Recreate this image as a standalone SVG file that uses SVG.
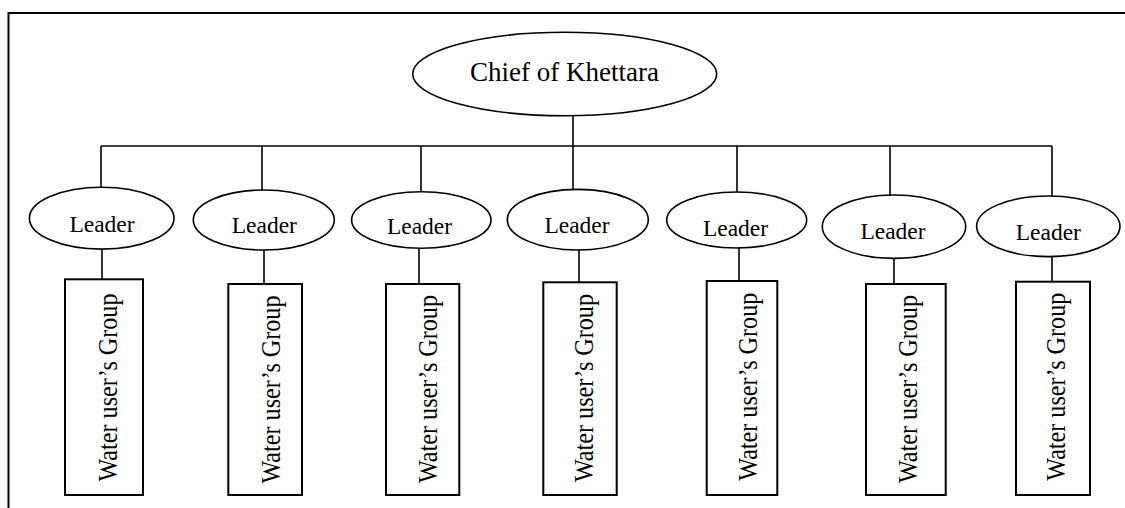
<svg xmlns="http://www.w3.org/2000/svg" width="1125" height="508" viewBox="0 0 1125 508">
  <style>
    .frame { fill: none; stroke: #000; stroke-width: 2; }
    .oval { fill: #fff; stroke: #000; stroke-width: 1.6; }
    .box { fill: #fff; stroke: #000; stroke-width: 2; }
    .wire { fill: none; stroke: #000; stroke-width: 1.6; }
    .lbl { font-family: "Liberation Serif", "Times New Roman", serif; fill: #000; text-anchor: middle; }
    .chief { font-size: 27px; }
    .leader { font-size: 23.5px; }
    .group { font-size: 27px; }
  </style>

  <!-- outer frame (open at right and bottom) -->
  <path class="frame" d="M8.5,508 V13 H1125"/>

  <!-- connectors -->
  <g id="connectors">
    <path class="wire" d="M573,116 V146"/>
    <path class="wire" d="M101,146 H1052"/>
    <path class="wire" d="M101,146 V187.5"/>
    <path class="wire" d="M262,146 V190"/>
    <path class="wire" d="M421,146 V192"/>
    <path class="wire" d="M573,146 V189.5"/>
    <path class="wire" d="M737,146 V192"/>
    <path class="wire" d="M890,146 V195"/>
    <path class="wire" d="M1052,146 V196"/>
    <!-- leader to group -->
    <path class="wire" d="M102,249 V279"/>
    <path class="wire" d="M264,250 V284"/>
    <path class="wire" d="M419,248 V284"/>
    <path class="wire" d="M579,250 V282"/>
    <path class="wire" d="M739,248 V281"/>
    <path class="wire" d="M894,258 V284"/>
    <path class="wire" d="M1052,256.5 V282"/>
  </g>

  <!-- top node -->
  <g id="chief">
    <ellipse class="oval" cx="564.7" cy="74" rx="152" ry="41.7"/>
    <text class="lbl chief" x="564.5" y="80.5">Chief of Khettara</text>
  </g>

  <!-- leaders -->
  <g id="leader-1">
    <ellipse class="oval" cx="101.7" cy="218.2" rx="72.3" ry="30.9"/>
    <text class="lbl leader" x="102" y="232.3">Leader</text>
  </g>
  <g id="leader-2">
    <ellipse class="oval" cx="263.8" cy="220" rx="70.5" ry="30"/>
    <text class="lbl leader" x="264.3" y="233.3">Leader</text>
  </g>
  <g id="leader-3">
    <ellipse class="oval" cx="421.3" cy="220" rx="69.7" ry="28.3"/>
    <text class="lbl leader" x="419.5" y="234.3">Leader</text>
  </g>
  <g id="leader-4">
    <ellipse class="oval" cx="577.8" cy="219.7" rx="70.5" ry="30.3"/>
    <text class="lbl leader" x="577" y="233.3">Leader</text>
  </g>
  <g id="leader-5">
    <ellipse class="oval" cx="736.7" cy="220" rx="70" ry="28"/>
    <text class="lbl leader" x="735.5" y="235.7">Leader</text>
  </g>
  <g id="leader-6">
    <ellipse class="oval" cx="894" cy="226.7" rx="71.7" ry="31.7"/>
    <text class="lbl leader" x="893" y="239">Leader</text>
  </g>
  <g id="leader-7">
    <ellipse class="oval" cx="1048.3" cy="226.3" rx="71.7" ry="30.3"/>
    <text class="lbl leader" x="1048.3" y="240">Leader</text>
  </g>

  <!-- water user groups (vertical labels) -->
  <g id="group-1">
    <rect class="box" x="65" y="279.3" width="78" height="215.7"/>
    <text class="lbl group" transform="translate(116.7,387.5) rotate(-90)" textLength="188" lengthAdjust="spacingAndGlyphs">Water user’s Group</text>
  </g>
  <g id="group-2">
    <rect class="box" x="228.3" y="284" width="73.7" height="211"/>
    <text class="lbl group" transform="translate(280,389.5) rotate(-90)" textLength="188" lengthAdjust="spacingAndGlyphs">Water user’s Group</text>
  </g>
  <g id="group-3">
    <rect class="box" x="386" y="284" width="73.3" height="211"/>
    <text class="lbl group" transform="translate(436.7,389) rotate(-90)" textLength="188" lengthAdjust="spacingAndGlyphs">Water user’s Group</text>
  </g>
  <g id="group-4">
    <rect class="box" x="543.3" y="282.3" width="73.4" height="212.7"/>
    <text class="lbl group" transform="translate(593.3,388) rotate(-90)" textLength="188" lengthAdjust="spacingAndGlyphs">Water user’s Group</text>
  </g>
  <g id="group-5">
    <rect class="box" x="706.7" y="281" width="70.6" height="214"/>
    <text class="lbl group" transform="translate(756.7,386.7) rotate(-90)" textLength="188" lengthAdjust="spacingAndGlyphs">Water user’s Group</text>
  </g>
  <g id="group-6">
    <rect class="box" x="866" y="284" width="79.7" height="211"/>
    <text class="lbl group" transform="translate(916.7,389) rotate(-90)" textLength="188" lengthAdjust="spacingAndGlyphs">Water user’s Group</text>
  </g>
  <g id="group-7">
    <rect class="box" x="1016" y="281.7" width="74" height="213.3"/>
    <text class="lbl group" transform="translate(1065,386.7) rotate(-90)" textLength="188" lengthAdjust="spacingAndGlyphs">Water user’s Group</text>
  </g>
</svg>
